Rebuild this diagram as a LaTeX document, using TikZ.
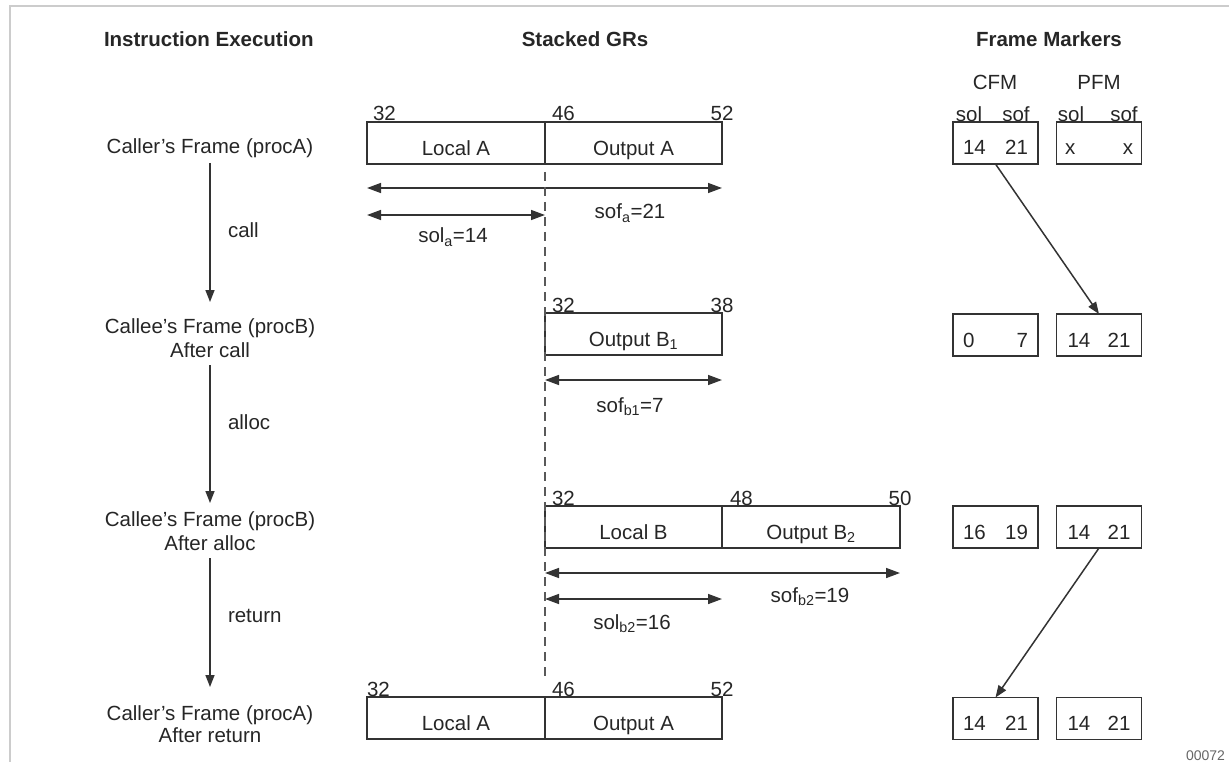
\documentclass[tikz,border=0pt]{standalone}
\usepackage{fontspec}
\setmainfont{Liberation Sans}
\usetikzlibrary{arrows.meta}
\begin{document}
\begin{tikzpicture}[x=1pt,y=-1pt,
  every node/.style={font=\fontsize{20.5}{24}\selectfont, text=black!85, inner sep=0pt, outer sep=0pt},
  hdr/.style={font=\fontsize{20.5}{24}\selectfont\bfseries},
  reg/.style={draw=black!80, line width=1.6pt, minimum height=42pt, text height=28pt, text depth=3pt, inner sep=1pt, anchor=north west},
  fm/.style={draw=black!80, line width=1.6pt, minimum width=85pt, minimum height=42pt, text height=27pt, text depth=3pt, inner sep=1pt},
  num/.style={anchor=base west},
  flow/.style={draw=black!80, line width=1.5pt, -{Triangle[length=12pt,width=9pt]}},
  dim/.style={draw=black!80, line width=1.5pt, {Triangle[length=14pt,width=10pt]}-{Triangle[length=14pt,width=10pt]}},
  dashline/.style={draw=black!65, line width=1.5pt, dash pattern=on 9pt off 6pt},
  small/.style={font=\fontsize{14}{16}\selectfont, text=black!60}]
\useasboundingbox (0,0) rectangle (1229,762);
% frame
\draw[black!20, line width=2.5pt] (10,762) -- (10,6) -- (1229,6);

% headers
\node[hdr, anchor=base west] (h1) at (104,47) {Instruction Execution};
\node[hdr, anchor=base] (h2) at (585,47) {Stacked GRs};
\node[hdr, anchor=base] (h3) at (1049,47) {Frame Markers};

% left column
\node[anchor=base] (s1) at (210,154) {Caller's Frame (procA)};
\node[anchor=base] (s2) at (210,333) {Callee's Frame (procB)};
\node[anchor=base] (s2b) at (210,357) {After call};
\node[anchor=base] (s3) at (210,526) {Callee's Frame (procB)};
\node[anchor=base] (s3b) at (210,550) {After alloc};
\node[anchor=base] (s4) at (210,720) {Caller's Frame (procA)};
\node[anchor=base] (s4b) at (210,742) {After return};
\draw[flow] ([yshift=-9pt]s1.base) -- ([yshift=31pt]s2.base);
\draw[flow] ([yshift=-8pt]s2b.base) -- ([yshift=23pt]s3.base);
\draw[flow] ([yshift=-8pt]s3b.base) -- ([yshift=33pt]s4.base);
\node[anchor=base west] (lcall) at (228,238) {call};
\node[anchor=base west] (lalloc) at (228,429) {alloc};
\node[anchor=base west] (lret) at (228,622) {return};

% stacked GRs row 1
\node[reg, minimum width=178pt] (la1) at (367,122) {Local A};
\node[reg, minimum width=177pt] (oa1) at (la1.north east) {Output A};
\node[num] (n1a) at ([xshift=6pt,yshift=1pt]la1.north west) {32};
\node[num] (n1b) at ([xshift=7pt,yshift=1pt]oa1.north west) {46};
\node[anchor=base] (n1c) at ([yshift=1pt]oa1.north east) {52};
\draw[dim] ([yshift=-24pt]la1.south west) -- ([yshift=-24pt]oa1.south east);
\draw[dim] ([yshift=-51pt]la1.south west) -- ([yshift=-51pt]la1.south east);
\node[anchor=base] (sofa) at (630,219) {sof\textsubscript{a}=21};
\node[anchor=base] (sola) at (453,243) {sol\textsubscript{a}=14};

% row 2
\node[reg, minimum width=177pt] (ob1) at (545,313) {Output B\textsubscript{1}};
\node[num] (n2a) at ([xshift=7pt,yshift=1pt]ob1.north west) {32};
\node[anchor=base] (n2b) at ([yshift=1pt]ob1.north east) {38};
\draw[dim] ([yshift=-25pt]ob1.south west) -- ([yshift=-25pt]ob1.south east);
\node[anchor=base] (sofb1) at (630,412) {sof\textsubscript{b1}=7};

% row 3
\node[reg, minimum width=177pt] (lb) at (545,506) {Local B};
\node[reg, minimum width=178pt] (ob2) at (lb.north east) {Output B\textsubscript{2}};
\node[num] (n3a) at ([xshift=7pt,yshift=1pt]lb.north west) {32};
\node[num] (n3b) at ([xshift=8pt,yshift=1pt]ob2.north west) {48};
\node[anchor=base] (n3c) at ([yshift=1pt]ob2.north east) {50};
\draw[dim] ([yshift=-25pt]lb.south west) -- ([yshift=-25pt]ob2.south east);
\draw[dim] ([yshift=-51pt]lb.south west) -- ([yshift=-51pt]lb.south east);
\node[anchor=base] (sofb2) at (810,602) {sof\textsubscript{b2}=19};
\node[anchor=base] (solb2) at (632,629) {sol\textsubscript{b2}=16};

% row 4
\node[reg, minimum width=178pt] (la4) at (367,697) {Local A};
\node[reg, minimum width=177pt] (oa4) at (la4.north east) {Output A};
\node[num] (n4a) at ([xshift=0pt,yshift=1pt]la4.north west) {32};
\node[num] (n4b) at ([xshift=7pt,yshift=1pt]oa4.north west) {46};
\node[anchor=base] (n4c) at ([yshift=1pt]oa4.north east) {52};

% dashed divider
\draw[dashline] ([yshift=-8pt]la1.south east) -- ([yshift=18pt]la4.north east);

% frame markers
\node[anchor=base] (cfm) at (995,90) {CFM};
\node[anchor=base] (pfm) at (1099,90) {PFM};
\node[anchor=base] (csol) at (969,122) {sol};
\node[anchor=base] (csof) at (1016,122) {sof};
\node[anchor=base] (psol) at (1071,122) {sol};
\node[anchor=base] (psof) at (1124,122) {sof};

\node[fm] (c1) at (995.5,143) {\makebox[65pt]{14\hfill 21}};
\node[fm] (p1) at (1099,143) {\makebox[68pt]{x\hfill x}};
\node[fm] (c2) at (995.5,335) {\makebox[65pt]{0\hfill 7}};
\node[fm] (p2) at (1099,335) {\makebox[63pt]{14\hfill 21}};
\node[fm] (c3) at (995.5,527) {\makebox[65pt]{16\hfill 19}};
\node[fm] (p3) at (1099,527) {\makebox[63pt]{14\hfill 21}};
\node[fm] (c4) at (995.5,718.5) {\makebox[65pt]{14\hfill 21}};
\node[fm] (p4) at (1099,718.5) {\makebox[63pt]{14\hfill 21}};
\draw[flow] (c1.south) -- (p2.north);
\draw[flow] (p3.south) -- (c4.north);

\node[small, anchor=base west] (code) at (1186,760) {00072};
\end{tikzpicture}
\end{document}
